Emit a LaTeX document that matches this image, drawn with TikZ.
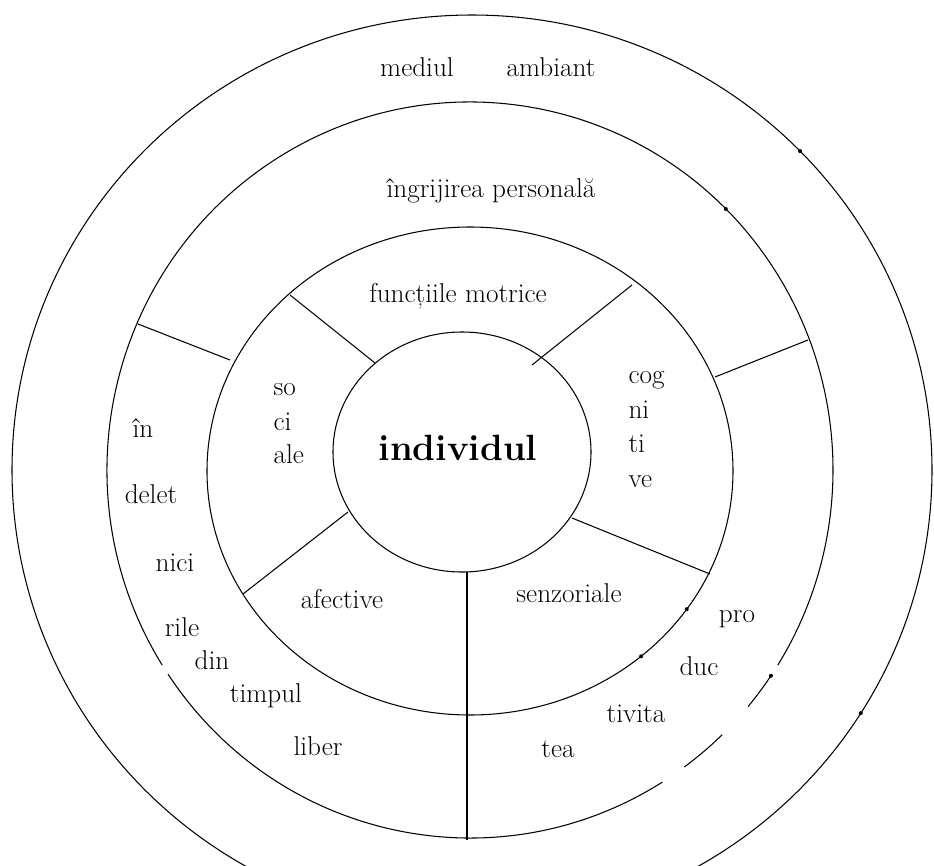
\documentclass[tikz,border=0pt]{standalone}
\usepackage{tikz}

\begin{document}
\begin{tikzpicture}[x=0.02cm, y=-0.02cm, line width=0.6pt,
	txt/.style={font=\fontsize{15.5}{19}\selectfont, inner sep=0pt, anchor=base},
	syl/.style={txt, anchor=base west}]
	\clip (0,0) rectangle (934,866);
	% centrele cercurilor
	\coordinate (o4) at (472,470);
	\coordinate (o3) at (470,470);
	\coordinate (o2) at (470,471);
	\coordinate (o1) at (462,452);
	\draw (o4) ellipse [x radius=460, y radius=455];
	\foreach \a/\b in {58/146.3, 148/392, 34/40, 46/53.8}
		\draw (o3) ++(\a:363 and 368) arc [start angle=\a, end angle=\b, x radius=363, y radius=368];
	\draw (o2) ellipse [x radius=263, y radius=244];
	\draw (o1) ellipse [x radius=129, y radius=120];
	% separatoare
	\coordinate (a1) at (290,295); \coordinate (b1) at (375,363);
	\coordinate (a2) at (632,285); \coordinate (b2) at (532,365);
	\coordinate (a3) at (710,574); \coordinate (b3) at (572,518);
	\coordinate (a4) at (243,594); \coordinate (b4) at (348,512);
	\coordinate (a5) at (138,324); \coordinate (b5) at (230,360);
	\coordinate (a6) at (808,340); \coordinate (b6) at (715,377);
	\coordinate (a7) at (467,840); \coordinate (b7) at (467,572);
	\foreach \i in {1,...,7}
		\draw (a\i) -- (b\i);
	% puncte mici pe cercuri
	\foreach \a in {-44.5, 32.3}
		\fill (o4) ++(\a:460 and 455) circle [radius=2];
	\foreach \a in {-45.2, 34}
		\fill (o3) ++(\a:363 and 368) circle [radius=2];
	\foreach \a in {34.5, 49.4}
		\fill (o2) ++(\a:263 and 244) circle [radius=2];
	% texte
	\node[txt] (mediul) at (417,76) {mediul};
	\node[txt] (ambiant) at (551,76) {ambiant};
	\node[txt] (ingrijire) at (491,197) {îngrijirea personală};
	\node[txt] (motrice) at (458,302) {funcțiile motrice};
	\node[txt, font=\fontsize{20.8}{24}\selectfont\bfseries] (individul) at (458,460) {individul};
	\node[txt] (afective) at (342,608) {afective};
	\node[txt] (senzoriale) at (569,602) {senzoriale};
	\foreach \t/\y [count=\i] in {so/395, ci/430, ale/463}
		\node[syl] (soc\i) at (273,\y) {\t};
	\foreach \t/\y [count=\i] in {cog/383, ni/418, ti/452, ve/487}
		\node[syl] (cog\i) at (628,\y) {\t};
	\foreach \t/\x/\y [count=\i] in {în/143/437, delet/151/503, nici/175/571, rile/182/636, din/212/669, timpul/266/702, liber/318/755}
		\node[txt] (tl\i) at (\x,\y) {\t};
	\foreach \t/\x/\y [count=\i] in {pro/737/622, duc/699/675, tivita/636/722, tea/558/757}
		\node[txt] (pr\i) at (\x,\y) {\t};
\end{tikzpicture}
\end{document}
